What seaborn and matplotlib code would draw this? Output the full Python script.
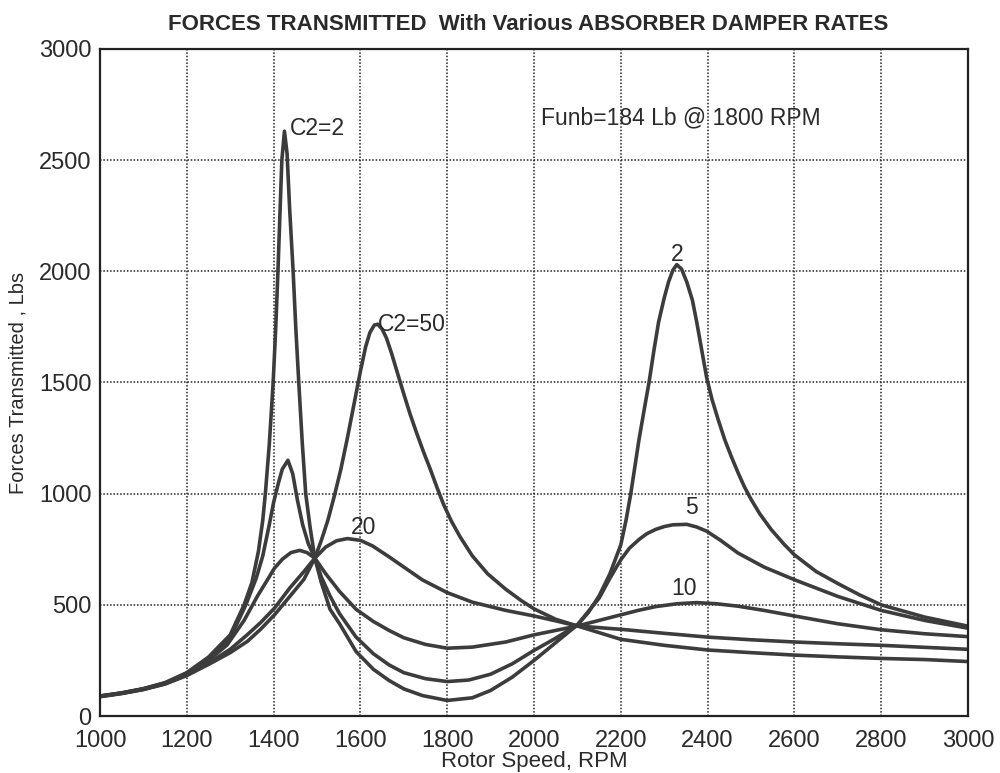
import matplotlib
matplotlib.use("Agg")
import matplotlib.pyplot as plt
import seaborn as sns
import pandas as pd

# ---- data ----
rpm_c2 = [1000, 1050, 1100, 1150, 1200, 1250, 1300, 1332, 1350, 1365, 1375, 1381, 1390, 1399, 1405,
          1410, 1415, 1419, 1425, 1431, 1437, 1445, 1451, 1458, 1466, 1474, 1484, 1495, 1510, 1530,
          1552, 1590, 1630, 1666, 1700, 1743, 1800, 1858, 1900, 1950, 2000, 2050, 2100, 2125, 2150,
          2175, 2200, 2212, 2223, 2242, 2255, 2265, 2276, 2287, 2300, 2310, 2320, 2329, 2340, 2352,
          2365, 2375, 2387, 2398, 2410, 2424, 2440, 2455, 2470, 2485, 2500, 2520, 2546, 2575, 2600,
          2650, 2700, 2750, 2800, 2900, 3000]
force_c2 = [90, 104, 123, 150, 195, 265, 365, 500, 600, 740, 880, 1000, 1220, 1500, 1750,
            2000, 2280, 2500, 2630, 2530, 2280, 2000, 1750, 1500, 1230, 1000, 850, 710, 600, 480,
            415, 290, 210, 160, 122, 92, 70, 82, 115, 175, 250, 330, 410, 465, 540,
            640, 770, 880, 1000, 1244, 1390, 1500, 1640, 1771, 1880, 1952, 2005, 2030, 2010, 1952,
            1870, 1771, 1640, 1520, 1425, 1335, 1240, 1165, 1095, 1030, 975, 910, 840, 775, 725,
            650, 596, 545, 500, 445, 404]

rpm_c5 = [1000, 1050, 1100, 1150, 1200, 1250, 1300, 1336, 1360, 1375, 1390, 1400, 1410, 1420, 1433,
          1444, 1455, 1467, 1480, 1495, 1510, 1530, 1552, 1590, 1630, 1666, 1700, 1750, 1800, 1850,
          1900, 1950, 2000, 2050, 2100, 2150, 2175, 2200, 2220, 2242, 2260, 2280, 2300, 2320, 2352,
          2375, 2398, 2430, 2470, 2530, 2600, 2700, 2800, 2900, 3000]
force_c5 = [90, 104, 123, 149, 193, 260, 350, 500, 620, 720, 860, 960, 1040, 1110, 1150,
            1090, 970, 860, 775, 710, 625, 540, 460, 355, 280, 230, 195, 168, 155, 162,
            188, 235, 295, 350, 410, 530, 620, 703, 755, 794, 820, 839, 852, 860, 862,
            850, 831, 790, 733, 670, 613, 538, 475, 430, 395]

rpm_c10 = [1000, 1050, 1100, 1150, 1200, 1250, 1293, 1332, 1363, 1385, 1402, 1420, 1440, 1460, 1477,
           1495, 1520, 1552, 1590, 1630, 1666, 1700, 1750, 1800, 1858, 1935, 2000, 2050, 2100, 2150,
           2200, 2240, 2280, 2330, 2375, 2420, 2470, 2530, 2600, 2700, 2800, 2900, 3000]
force_c10 = [89, 103, 121, 147, 188, 250, 320, 430, 540, 610, 665, 705, 735, 745, 735,
             710, 640, 560, 480, 425, 385, 352, 322, 305, 310, 333, 365, 385, 405, 430,
             455, 475, 492, 505, 510, 505, 494, 475, 450, 415, 388, 370, 357]

rpm_c20 = [1000, 1050, 1100, 1150, 1200, 1250, 1300, 1339, 1370, 1402, 1437, 1470, 1495, 1520, 1545,
           1570, 1600, 1628, 1666, 1700, 1743, 1800, 1858, 1935, 2000, 2050, 2100, 2200, 2300, 2400,
           2500, 2600, 2700, 2800, 2900, 3000]
force_c20 = [88, 102, 120, 145, 185, 238, 300, 365, 420, 485, 575, 650, 710, 760, 788,
             798, 790, 765, 716, 670, 612, 555, 512, 475, 450, 428, 405, 390, 372, 355,
             343, 333, 325, 318, 309, 300]

rpm_c50 = [1000, 1050, 1100, 1150, 1200, 1250, 1300, 1339, 1370, 1402, 1437, 1470, 1495, 1510, 1525,
           1540, 1555, 1570, 1585, 1600, 1612, 1622, 1632, 1640, 1650, 1660, 1672, 1685, 1700, 1715,
           1731, 1746, 1762, 1777, 1792, 1810, 1830, 1858, 1893, 1935, 1970, 2000, 2050, 2100, 2200,
           2300, 2400, 2500, 2600, 2700, 2800, 2900, 3000]
force_c50 = [87, 101, 119, 144, 182, 232, 285, 335, 390, 455, 537, 615, 710, 790, 880,
             990, 1110, 1250, 1400, 1550, 1660, 1725, 1758, 1762, 1740, 1700, 1630, 1545, 1448, 1355,
             1265, 1185, 1105, 1025, 950, 875, 805, 720, 640, 570, 520, 482, 435, 405, 345,
             318, 297, 285, 274, 266, 259, 254, 245]

series_names = ["C2=2", "C2=5", "C2=10", "C2=20", "C2=50"]

x_ticks = [1000, 1200, 1400, 1600, 1800, 2000, 2200, 2400, 2600, 2800, 3000]
y_ticks = [0, 500, 1000, 1500, 2000, 2500, 3000]

curve_labels = ["C2=2", "C2=50", "20", "2", "5", "10"]
curve_label_x = [1438, 1640, 1578, 2329, 2362, 2345]
curve_label_y = [2640, 1760, 850, 2075, 940, 575]
curve_label_ha = ["left", "left", "left", "center", "center", "center"]

title = "FORCES TRANSMITTED  With Various ABSORBER DAMPER RATES"
note = "Funb=184 Lb @ 1800 RPM"
xlabel = "Rotor Speed, RPM"
ylabel = "Forces Transmitted , Lbs"

# ---- build table ----
frames = []
for name, xs, ys in zip(series_names,
                        [rpm_c2, rpm_c5, rpm_c10, rpm_c20, rpm_c50],
                        [force_c2, force_c5, force_c10, force_c20, force_c50]):
    frames.append(pd.DataFrame({"rpm": xs, "force": ys, "damper": name}))
df = pd.concat(frames, ignore_index=True)

sns.set_theme(style="white")
plt.rcParams["font.family"] = ["Liberation Sans", "DejaVu Sans"]

ink = "#2a2a2a"
fig = plt.figure(figsize=(10, 7.73), dpi=100)
ax = fig.add_axes([0.100, 0.0737, 0.868, 0.863])

sns.lineplot(data=df, x="rpm", y="force", hue="damper", units="damper", estimator=None,
             palette=["#3c3c3c"] * 5, linewidth=2.6, legend=False, ax=ax, sort=True)

ax.set_xlim(1000, 3000)
ax.set_ylim(0, 3000)
ax.set_xticks(x_ticks)
ax.set_yticks(y_ticks)
ax.set_xticklabels([str(t) for t in x_ticks], fontsize=17, color=ink)
ax.set_yticklabels([str(t) for t in y_ticks], fontsize=17, color=ink)
ax.tick_params(axis="both", direction="in", length=5, width=1.2, colors="#222222")
ax.tick_params(axis="x", pad=10)
ax.tick_params(axis="y", pad=6)
for lbl in ax.get_xticklabels() + ax.get_yticklabels():
    lbl.set_color(ink)

ax.grid(True, linestyle=(0, (1, 1.2)), color="#222222", linewidth=1.1)
for sp in ax.spines.values():
    sp.set_visible(True)
    sp.set_color("#222222")
    sp.set_linewidth(1.6)

ax.set_xlabel(xlabel, fontsize=16, color=ink)
ax.set_ylabel(ylabel, fontsize=14.5, color=ink)
ax.xaxis.set_label_coords(0.5, -0.052)
ax.yaxis.set_label_coords(-0.083, 0.5)

fig.text(0.528, 0.968, title, ha="center", va="center", fontsize=16, color=ink,
         family=["Liberation Sans Narrow", "Liberation Sans", "DejaVu Sans"], fontweight="bold")

ax.text(2017, 2690, note, ha="left", va="center", fontsize=16.5, color=ink)
for t, x, y, ha in zip(curve_labels, curve_label_x, curve_label_y, curve_label_ha):
    ax.text(x, y, t, ha=ha, va="center", fontsize=16.5, color=ink)

fig.savefig("out.png", dpi=100, facecolor="white")
